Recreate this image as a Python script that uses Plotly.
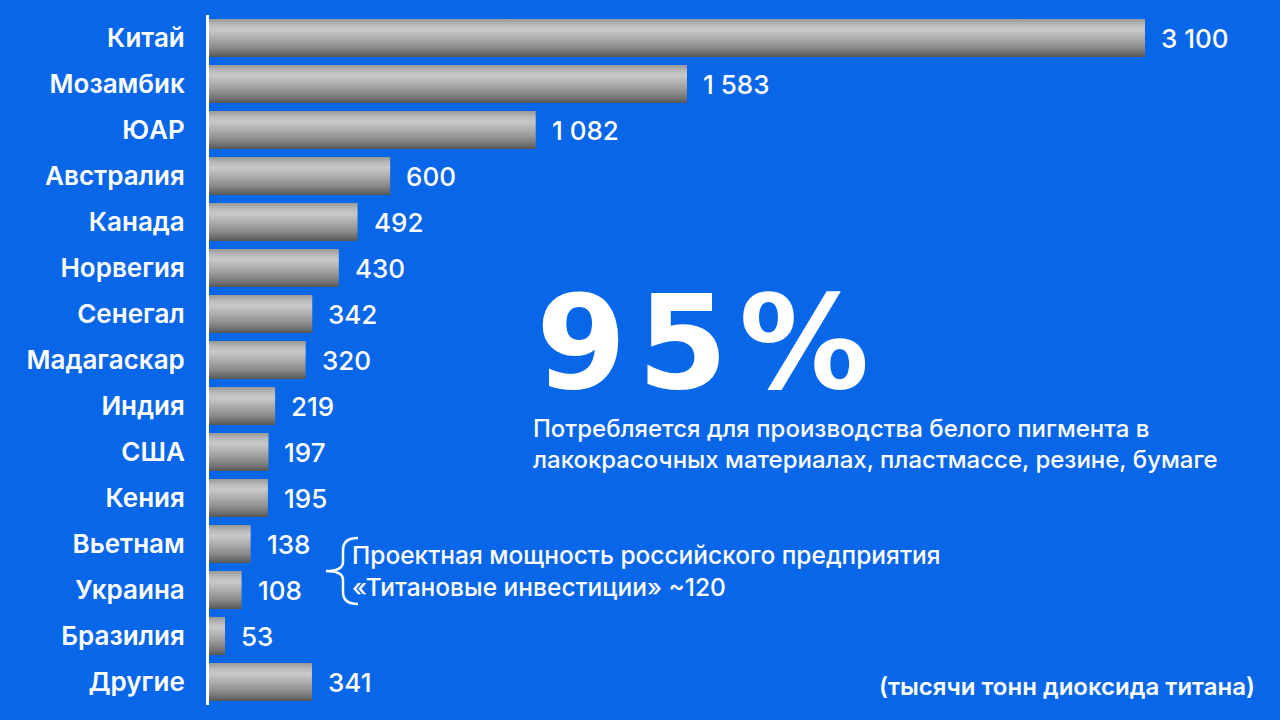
import plotly.graph_objects as go

countries = ["Китай", "Мозамбик", "ЮАР", "Австралия", "Канада", "Норвегия", "Сенегал",
             "Мадагаскар", "Индия", "США", "Кения", "Вьетнам", "Украина", "Бразилия", "Другие"]
values = [3100, 1583, 1082, 600, 492, 430, 342, 320, 219, 197, 195, 138, 108, 53, 341]
value_labels = ["3 100", "1 583", "1 082", "600", "492", "430", "342", "320",
                "219", "197", "195", "138", "108", "53", "341"]

BG = "#0866E8"
n = len(countries)
pos = [n - 1 - i for i in range(n)]
half = 0.415

# plot area in pixels (for placing decorative text)
L, R, T, B = 209, 1280, 15, 705


def px(xp):
    return (xp - L) / (R - L)


def py(yp):
    return (B - yp) / (B - T)


metal = [[0.0, "#565656"], [0.1, "#6c6c6c"], [0.25, "#8a8a8a"], [0.45, "#a6a6a6"],
         [0.6, "#bababa"], [0.72, "#c9c9c9"], [0.85, "#b9b9b9"], [1.0, "#979797"]]

fig = go.Figure()
for c, v in zip(pos, values):
    fig.add_trace(go.Scatter(
        x=[0, v, v, 0, 0], y=[c - half, c - half, c + half, c + half, c - half],
        mode="lines", line=dict(width=0), fill="toself",
        fillgradient=dict(type="vertical", colorscale=metal),
        hoverinfo="skip", showlegend=False))

for c, v, t in zip(pos, values, value_labels):
    fig.add_annotation(x=v, y=c, text=t, showarrow=False, xanchor="left", yanchor="middle",
                       xshift=14, font=dict(family="Inter", size=26, color="white", weight=500))

fig.add_annotation(xref="paper", yref="paper", x=px(534), y=py(343),
                   text="<b><span style='letter-spacing:11px'>95%</span></b>",
                   showarrow=False, xanchor="left", yanchor="middle",
                   font=dict(family="DejaVu Sans", size=130, color="white"))
fig.add_annotation(xref="paper", yref="paper", x=px(531), y=py(444),
                   text="Потребляется для производства белого пигмента в<br>лакокрасочных материалах, пластмассе, резине, бумаге",
                   showarrow=False, xanchor="left", yanchor="middle", align="left",
                   font=dict(family="Inter", size=24, color="white", weight=500))

brace = [(358, 538), (343, 538), (343, 550), (343, 562), (343, 571), (326, 571),
         (343, 571), (343, 580), (343, 592), (343, 604), (358, 604)]
b = [(px(a), py(c)) for a, c in brace]
path = (f"M {b[0][0]},{b[0][1]} Q {b[1][0]},{b[1][1]} {b[2][0]},{b[2][1]} "
        f"L {b[3][0]},{b[3][1]} Q {b[4][0]},{b[4][1]} {b[5][0]},{b[5][1]} "
        f"Q {b[6][0]},{b[6][1]} {b[7][0]},{b[7][1]} L {b[8][0]},{b[8][1]} "
        f"Q {b[9][0]},{b[9][1]} {b[10][0]},{b[10][1]}")
fig.add_shape(type="path", xref="paper", yref="paper", path=path,
              line=dict(color="white", width=2.5))

fig.add_annotation(xref="paper", yref="paper", x=px(350), y=py(571),
                   text="Проектная мощность российского предприятия<br>«Титановые инвестиции» ~120",
                   showarrow=False, xanchor="left", yanchor="middle", align="left",
                   font=dict(family="Inter", size=24.5, color="white", weight=500))
fig.add_annotation(xref="paper", yref="paper", x=px(1257), y=py(686),
                   text="(тысячи тонн диоксида титана)", showarrow=False,
                   xanchor="right", yanchor="middle",
                   font=dict(family="Inter", size=24, color="white", weight=600))

fig.update_layout(
    width=1280, height=720,
    margin=dict(l=L, r=1280 - R, t=T, b=720 - B),
    paper_bgcolor=BG, plot_bgcolor=BG,
    xaxis=dict(range=[0, 3547], visible=False, showgrid=False, zeroline=False),
    yaxis=dict(range=[-0.5, n - 0.5], tickvals=pos, ticktext=countries,
               showgrid=False, zeroline=False, showline=True, linecolor="white", linewidth=3,
               ticks="", ticklabelstandoff=16,
               tickfont=dict(family="Inter", size=26, color="white", weight=600)),
    hovermode=False,
)

fig.write_html("out.html")
